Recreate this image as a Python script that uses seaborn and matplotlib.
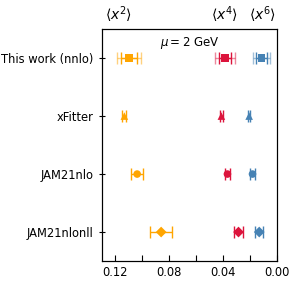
import numpy as np
import pandas as pd
import matplotlib
matplotlib.use("Agg")
import matplotlib.pyplot as plt
import seaborn as sns

sns.set_style("ticks", {"axes.edgecolor": "black", "xtick.color": "black",
                        "ytick.color": "black", "text.color": "black"})
plt.rcParams["font.family"] = ["DejaVu Sans"]

# data
groups = ["This work (nnlo)", "xFitter", "JAM21nlo", "JAM21nlonll"]
markers = ["s", "^", "o", "D"]
x2 = [0.110, 0.1133, 0.1038, 0.0860]
x2_err = [0.0060, 0.0015, 0.0047, 0.0080]
x4 = [0.0388, 0.0413, 0.0368, 0.0286]
x4_err = [0.0045, 0.0010, 0.0020, 0.0035]
x6 = [0.0115, 0.0207, 0.0182, 0.0132]
x6_err = [0.0040, 0.0010, 0.0015, 0.0030]
# wider (total) uncertainty for this work only
outer_err = [0.0088, 0.0075, 0.0066]

moments = ["$\\langle x^2\\rangle$", "$\\langle x^4\\rangle$", "$\\langle x^6\\rangle$"]
moment_pos = [0.118, 0.0388, 0.0110]
colors = ["orange", "crimson", "steelblue"]

rows = []
for i, g in enumerate(groups):
    for m, vals, errs in zip(moments, [x2, x4, x6], [x2_err, x4_err, x6_err]):
        rows.append({"group": g, "moment": m, "val": vals[i], "err": errs[i], "y": i})
df = pd.DataFrame(rows)

fig = plt.figure(figsize=(2.91, 2.91), dpi=100)
ax = fig.add_axes([0.35, 0.103, 0.602, 0.797])

for m, c in zip(moments, colors):
    sub = df[df["moment"] == m]
    for _, r in sub.iterrows():
        ax.errorbar(r["val"], r["y"], xerr=r["err"], fmt="none", ecolor=c,
                    elinewidth=1.0, capsize=4.5, capthick=1.0, zorder=2)
    # outer band for this work
    ax.errorbar(sub["val"].iloc[0], 0, xerr=outer_err[moments.index(m)], fmt="none",
                ecolor=c, alpha=0.5, elinewidth=1.0, capsize=4.5, capthick=1.0, zorder=1)
    sns.scatterplot(data=sub, x="val", y="y", style="group", markers=dict(zip(groups, markers)),
                    color=c, s=30, edgecolor="none", legend=False, ax=ax, zorder=3)

ax.set_xlim(0.13, 0.0)
ax.set_ylim(3.5, -0.5)
ax.set_yticks(range(len(groups)))
ax.set_yticklabels(groups, fontsize=8.3)
ax.set_xticks([0.12, 0.10, 0.08, 0.06, 0.04, 0.02, 0.00])
ax.set_xticklabels(["0.12", "", "0.08", "", "0.04", "", "0.00"], fontsize=8.3)
ax.tick_params(axis="x", direction="in", length=4)
ax.tick_params(axis="y", direction="inout", length=5)
ax.set_xlabel("")
ax.set_ylabel("")
for s in ax.spines.values():
    s.set_visible(True)

ax.text(0.5, 0.975, "$\\mu=2$ GeV", transform=ax.transAxes, ha="center", va="top", fontsize=8.5)

top = ax.twiny()
top.set_xlim(ax.get_xlim())
top.set_xticks(moment_pos)
top.set_xticklabels(moments, fontsize=10)
top.tick_params(axis="x", length=0, pad=3)

fig.savefig("out.png", dpi=100)
plt.close(fig)
